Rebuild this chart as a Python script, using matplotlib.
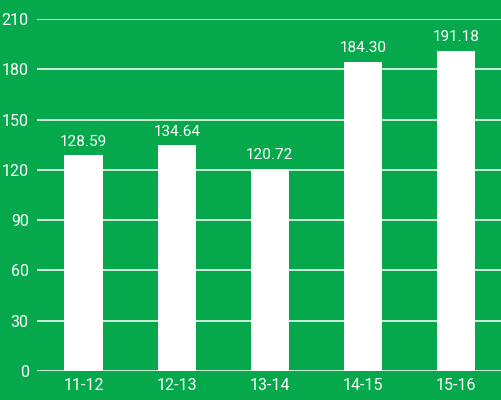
import matplotlib.pyplot as plt
import numpy as np

# data
years = ["11-12", "12-13", "13-14", "14-15", "15-16"]
values = [128.59, 134.64, 120.72, 184.30, 191.18]
labels = ["128.59", "134.64", "120.72", "184.30", "191.18"]
yticks = [0, 30, 60, 90, 120, 150, 180, 210]

green = "#05A94B"
plt.rcParams["font.family"] = ["Roboto", "DejaVu Sans"]

fig = plt.figure(figsize=(5.01, 4.0), dpi=100, facecolor=green)
axis = fig.add_axes([37 / 501, 29 / 400, 1 - 37 / 501, 352 / 400])
axis.set_facecolor(green)

x = np.arange(len(years))
axis.set_axisbelow(True)
for t in yticks:
    axis.axhline(t, color="#dff2e5", lw=1.3, zorder=0)
bars = axis.bar(x, values, width=0.41, color="white", zorder=2)

for rect, label in zip(bars, labels):
    axis.text(rect.get_x() + rect.get_width() / 2, rect.get_height() + 4, label,
              ha="center", va="bottom", color="white", fontsize=11)

axis.set_xlim(-0.5, 4.48)
axis.set_ylim(0, 210)
axis.set_xticks(x)
axis.set_xticklabels(years)
axis.set_yticks(yticks)
axis.tick_params(colors="white", length=0, labelsize=11.5, pad=5)
axis.tick_params(axis="y", pad=6)
for s in axis.spines.values():
    s.set_visible(False)

plt.savefig("out.png", dpi=100, facecolor=green)
